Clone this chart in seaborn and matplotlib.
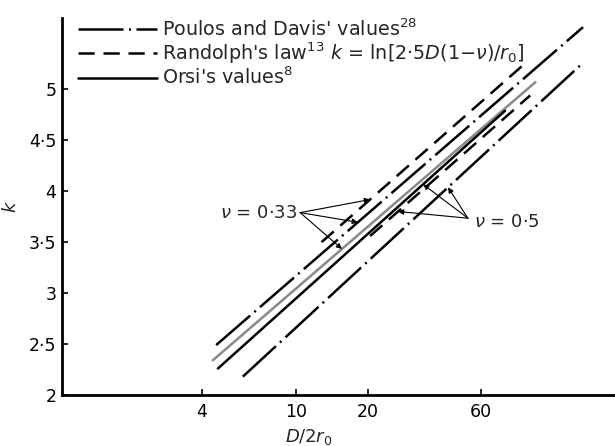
import numpy as np
import pandas as pd
import matplotlib
matplotlib.use("Agg")
import matplotlib.pyplot as plt
import seaborn as sns
from matplotlib.lines import Line2D
from matplotlib.ticker import FixedLocator, FixedFormatter, NullLocator

# ---- data (x = D/2r0, k) ----
poulos_033_x = [4.6, 162]
poulos_033_k = [2.49, 5.61]
poulos_05_x = [5.96, 162]
poulos_05_k = [2.18, 5.26]
randolph_033_x = [12.8, 95]
randolph_033_k = [3.50, 5.28]
randolph_05_x = [20.5, 97]
randolph_05_k = [3.56, 4.94]
orsi_033_x = [4.45, 102]
orsi_033_k = [2.34, 5.07]
orsi_05_x = [4.68, 76]
orsi_05_k = [2.26, 4.79]

x_ticks = [4, 10, 20, 60]
x_ticklabels = ["4", "10", "20", "60"]
y_ticks = [2, 2.5, 3, 3.5, 4, 4.5, 5]
y_ticklabels = ["2", "2·5", "3", "3·5", "4", "4·5", "5"]

legend_labels = ["Poulos and Davis' values$^{28}$",
                 "Randolph's law$^{13}$ $k$ = ln[2·5$D$(1$-\\nu$)/$r_0$]",
                 "Orsi's values$^{8}$"]

series = {
    "P033": (poulos_033_x, poulos_033_k),
    "P05": (poulos_05_x, poulos_05_k),
    "R033": (randolph_033_x, randolph_033_k),
    "R05": (randolph_05_x, randolph_05_k),
    "O033": (orsi_033_x, orsi_033_k),
    "O05": (orsi_05_x, orsi_05_k),
}

rows = []
for name, (xs, ks) in series.items():
    for x, k in zip(xs, ks):
        rows.append({"series": name, "x": x, "k": k})
df = pd.DataFrame(rows)

sns.set_style("white")
plt.rcParams["font.family"] = ["DejaVu Sans"]
plt.rcParams["mathtext.fontset"] = "dejavusans"

DASH = (6.5, 3.5)
DASHDOT = (18, 2.2, 0.8, 2.2)
palette = {"P033": "black", "P05": "black", "R033": "black", "R05": "black",
           "O033": "#8a8a8a", "O05": "black"}
dashes = {"P033": DASHDOT, "P05": DASHDOT, "R033": DASH, "R05": DASH,
          "O033": "", "O05": ""}

fig = plt.figure(figsize=(6.15, 4.46), dpi=100)
ax = fig.add_axes([62 / 615, 51 / 446, 553 / 615, 377 / 446])

sns.lineplot(data=df, x="x", y="k", hue="series", style="series",
             palette=palette, dashes=dashes, linewidth=1.8, legend=False,
             estimator=None, ax=ax)

ax.set_xscale("log")
ax.set_xlim(1.03, 221)
ax.set_ylim(2, 5.7)

ax.xaxis.set_major_locator(FixedLocator(x_ticks))
ax.xaxis.set_major_formatter(FixedFormatter(x_ticklabels))
ax.xaxis.set_minor_locator(NullLocator())
ax.yaxis.set_major_locator(FixedLocator(y_ticks))
ax.yaxis.set_major_formatter(FixedFormatter(y_ticklabels))

ax.tick_params(axis="both", direction="in", length=4, width=1.2,
               labelsize=12.5, colors="black")
ax.tick_params(axis="y", pad=4, left=True)
ax.tick_params(axis="x", pad=6, bottom=True)

for s in ["top", "right"]:
    ax.spines[s].set_visible(False)
for s in ["left", "bottom"]:
    ax.spines[s].set_linewidth(2.0)
    ax.spines[s].set_color("black")

ax.set_xlabel("$D/2r_0$", fontsize=13)
ax.set_ylabel("$k$", fontsize=13)
ax.xaxis.set_label_coords((309 - 62) / 553, (395 - 427) / 377)
ax.yaxis.set_label_coords((20 - 62) / 553, 0.5)

# legend
handles = [Line2D([], [], color="black", lw=1.8, linestyle=(0, DASHDOT)),
           Line2D([], [], color="black", lw=1.8, linestyle=(0, DASH)),
           Line2D([], [], color="black", lw=1.8, linestyle="-")]
ax.legend(handles, legend_labels, loc="upper left",
          bbox_to_anchor=((78 - 62) / 553, 1.0), frameon=False,
          fontsize=13.8, handlelength=4.13, handletextpad=0.25,
          borderpad=0, borderaxespad=0, labelspacing=0.05)


def on_line(key, x):
    xs, ks = series[key]
    return float(np.interp(np.log10(x), np.log10(xs), ks))


arrow = dict(arrowstyle="-|>", lw=0.8, color="black", mutation_scale=8,
             shrinkA=0, shrinkB=0)

# nu = 0.33 annotations
ax.text(10.1, 3.79, "$\\nu$ = 0·33", ha="right", va="center", fontsize=13)
o33 = (10.4, 3.79)
for key, xt in [("R033", 20.5), ("P033", 18.2), ("O033", 15.6)]:
    ax.annotate("", xy=(xt, on_line(key, xt)), xytext=o33, arrowprops=arrow)

# nu = 0.5 annotations
ax.text(56, 3.70, "$\\nu$ = 0·5", ha="left", va="center", fontsize=13)
o5 = (53, 3.735)
for key, xt in [("P05", 43.7), ("O05", 34.3), ("R05", 26.9)]:
    ax.annotate("", xy=(xt, on_line(key, xt)), xytext=o5, arrowprops=arrow)

fig.savefig("out.png", dpi=100)
